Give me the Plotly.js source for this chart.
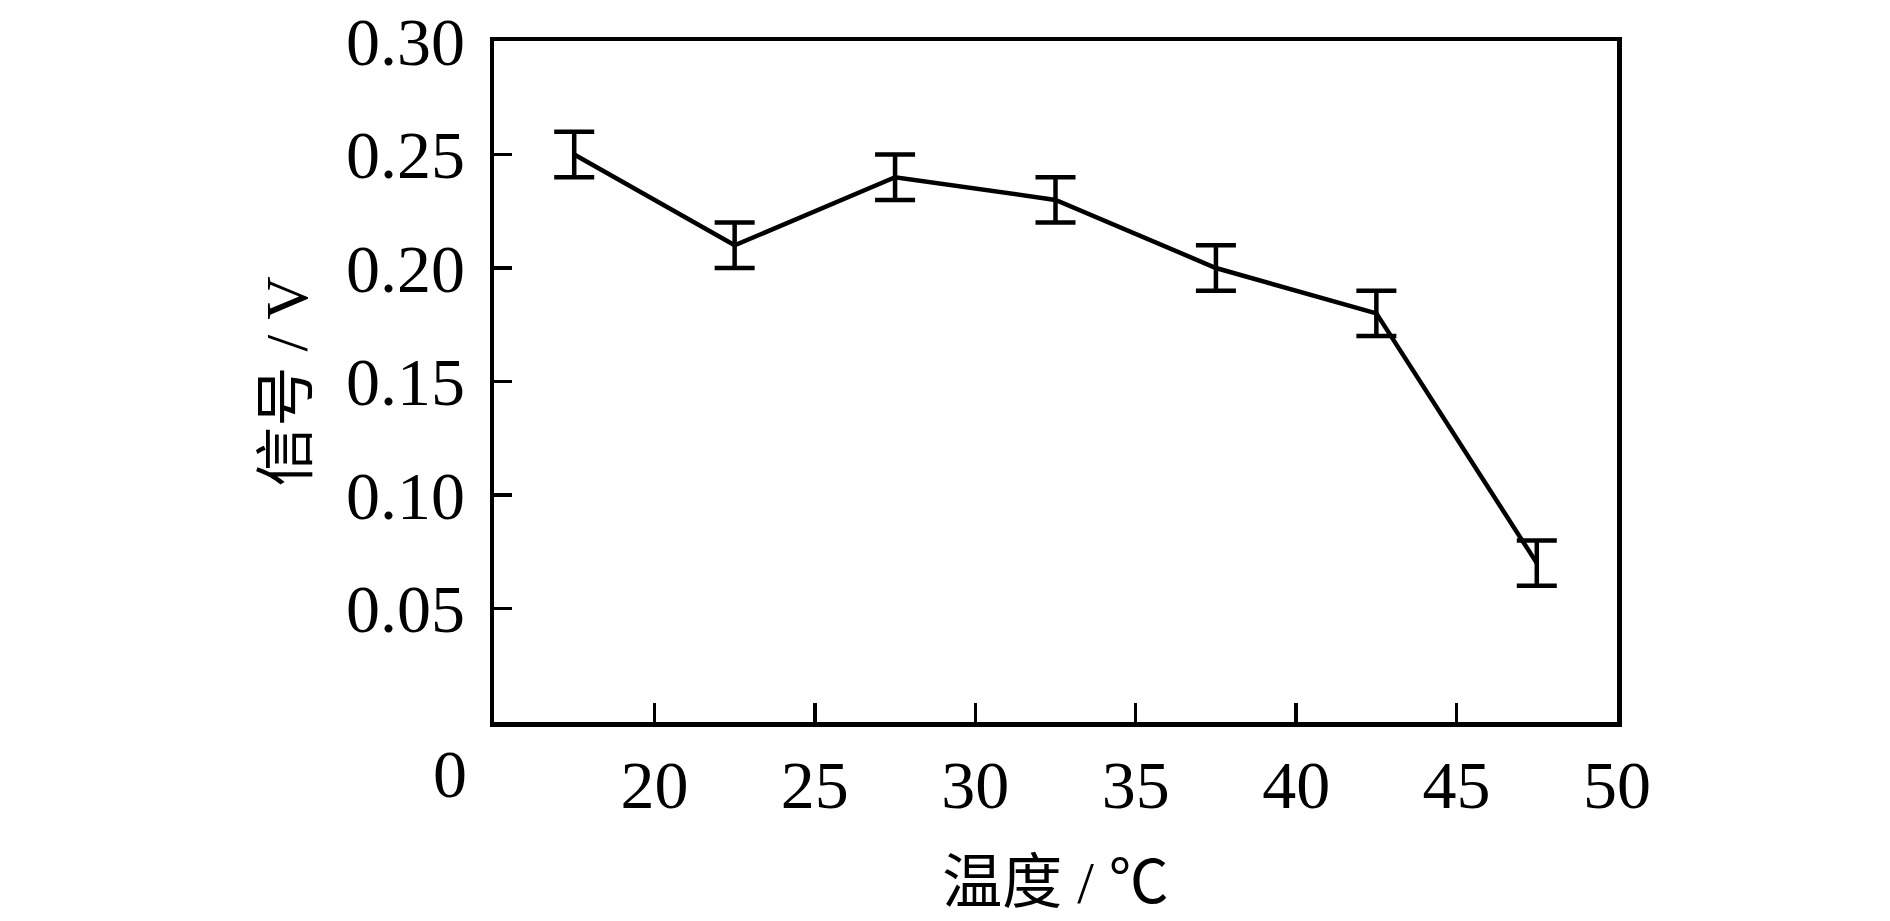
<!DOCTYPE html>
<html>
<head>
<meta charset="utf-8">
<script src="https://cdn.plot.ly/plotly-3.0.1.min.js"></script>
<style>
  html, body { margin: 0; padding: 0; background: #fff; }
  #chart { width: 1890px; height: 921px; }
</style>
</head>
<body>
<div id="chart"></div>
<script>
// temperature (℃) vs signal (V), error bars
var temps = [17.5, 22.5, 27.5, 32.5, 37.5, 42.5, 47.5];
var signal = [0.25, 0.21, 0.24, 0.23, 0.20, 0.18, 0.07];
var signalErr = [0.01, 0.01, 0.01, 0.01, 0.01, 0.01, 0.01];

var xTicks = [20, 25, 30, 35, 40, 45, 50];
var yTicks = [0.05, 0.10, 0.15, 0.20, 0.25, 0.30];
var yTickText = ["0.05", "0.10", "0.15", "0.20", "0.25", "0.30"];

var fontFam = '"Liberation Serif", "Times New Roman", "Noto Sans CJK SC", serif';

var trace1 = {
    x: temps,
    y: signal,
    type: 'scatter',
    mode: 'lines',
    line: {color: '#000', width: 4.5},
    error_y: {
        type: 'data',
        array: signalErr,
        visible: true,
        color: '#000',
        thickness: 4.5,
        width: 20
    },
    hoverinfo: 'skip'
};

var layout = {
    width: 1890,
    height: 921,
    showlegend: false,
    paper_bgcolor: '#fff',
    plot_bgcolor: '#fff',
    font: {family: fontFam, size: 68, color: '#000'},
    margin: {l: 494, r: 273, t: 41, b: 199},
    xaxis: {
        range: [15, 50],
        tickvals: xTicks,
        ticks: 'inside',
        ticklen: 19,
        tickwidth: 3.5,
        tickcolor: '#000',
        showline: true,
        linecolor: '#000',
        linewidth: 4.5,
        mirror: true,
        showgrid: false,
        zeroline: false,
        ticklabelstandoff: 0,
        tickfont: {family: fontFam, size: 68},
        title: {
            text: '温度 / ℃',
            font: {family: fontFam, size: 60},
            standoff: 40
        },
        automargin: false
    },
    yaxis: {
        range: [0, 0.30],
        tickvals: yTicks,
        ticktext: yTickText,
        ticks: 'inside',
        ticklen: 18,
        tickwidth: 3.5,
        tickcolor: '#000',
        showline: true,
        linecolor: '#000',
        linewidth: 4.5,
        mirror: true,
        showgrid: false,
        zeroline: false,
        ticklabelstandoff: 11,
        tickfont: {family: fontFam, size: 68},
        title: {
            text: '信号 / V',
            font: {family: fontFam, size: 60},
            standoff: 20
        },
        automargin: false
    },
    annotations: [{
        text: '0',
        xref: 'paper', yref: 'paper',
        x: -0.039, y: 0,
        xanchor: 'center', yanchor: 'middle',
        yshift: -52,
        showarrow: false,
        font: {family: fontFam, size: 68, color: '#000'}
    }]
};

Plotly.newPlot('chart', [trace1], layout, {displayModeBar: false, staticPlot: true});
</script>
</body>
</html>
